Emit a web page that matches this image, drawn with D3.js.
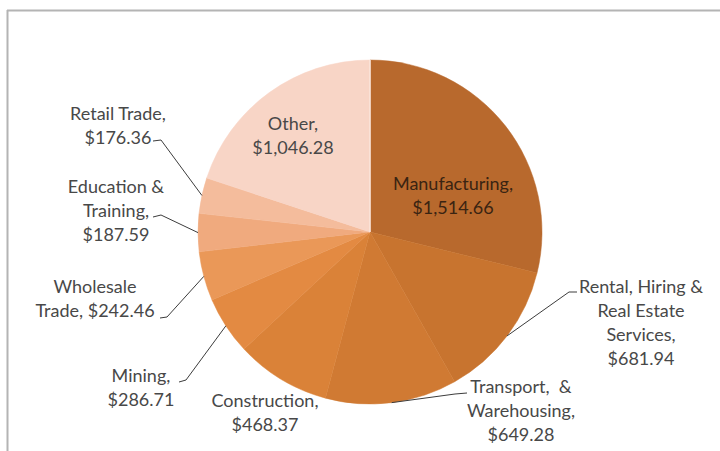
<!DOCTYPE html>
<html>
<head>
<meta charset="utf-8">
<script src="https://cdn.jsdelivr.net/npm/d3@7/dist/d3.min.js"></script>
<style>
  html, body { margin: 0; padding: 0; background: #fff; }
  svg { display: block; }
</style>
</head>
<body>
<svg id="chart" width="720" height="451"></svg>
<script>
// ---- data ----
const categories = ["Manufacturing", "Rental, Hiring & Real Estate Services", "Transport, & Warehousing",
  "Construction", "Mining", "Wholesale Trade", "Education & Training", "Retail Trade", "Other"];
const values = [1514.66, 681.94, 649.28, 468.37, 286.71, 242.46, 187.59, 176.36, 1046.28];
const labelTemplates = [
  ["Manufacturing,", "{v}"],
  ["Rental, Hiring &", "Real Estate", "Services,", "{v}"],
  ["Transport,\u00a0 &", "Warehousing,", "{v}"],
  ["Construction,", "{v}"],
  ["Mining,", "{v}"],
  ["Wholesale", "Trade, {v}"],
  ["Education &", "Training,", "{v}"],
  ["Retail Trade,", "{v}"],
  ["Other,", "{v}"]
];

// ---- styles / layout ----
const colors = ["#b8692d", "#c8742f", "#d07a33", "#da8238", "#e38a42", "#ea9858", "#f0aa7e", "#f4bc9c", "#f8d5c6"];
const labelLayout = [
  { x: 453, y: 190, leader: null, fill: "#3a2412" },
  { x: 641, y: 293, leader: [[577, 292], [569, 292]] },
  { x: 521, y: 393, leader: [[467, 393], [455, 394]] },
  { x: 265, y: 407, leader: null },
  { x: 141, y: 382, leader: [[179, 382], [186, 380]] },
  { x: 95,  y: 293, leader: [[160, 318], [167, 317]] },
  { x: 116, y: 193, leader: [[153, 217], [161, 215]] },
  { x: 118, y: 120, leader: [[153, 141], [161, 140]] },
  { x: 293, y: 130, leader: null }
];
const cx = 370, cy = 232, R = 172, lineH = 24;

const svg = d3.select("#chart");

// frame
svg.append("line").attr("x1", 7).attr("x2", 720).attr("y1", 10.5).attr("y2", 10.5)
  .attr("stroke", "#b4b4b4").attr("stroke-width", 2);
svg.append("line").attr("x1", 7.5).attr("x2", 7.5).attr("y1", 10).attr("y2", 451)
  .attr("stroke", "#b4b4b4").attr("stroke-width", 2);

const fmt = d3.format("$,.2f");
const pie = d3.pie().sort(null).value(d => d)(values);
const arc = d3.arc().innerRadius(0).outerRadius(R);

const g = svg.append("g").attr("transform", `translate(${cx},${cy})`);
g.selectAll("path.slice").data(pie).join("path")
  .attr("class", "slice")
  .attr("d", arc)
  .attr("fill", (d, i) => colors[i])
  .attr("stroke", (d, i) => colors[i])
  .attr("stroke-width", 0.5);

// thin light separator between Other and Manufacturing at the top
g.append("line").attr("x1", 0).attr("y1", 0).attr("x2", 0).attr("y2", -R)
  .attr("stroke", "#fbe6dc").attr("stroke-width", 1.5);

// leader lines
const line = d3.line();
pie.forEach((d, i) => {
  const L = labelLayout[i];
  if (!L.leader) return;
  const mid = (d.startAngle + d.endAngle) / 2;
  const end = [cx + R * Math.sin(mid), cy - R * Math.cos(mid)];
  svg.append("path")
    .attr("d", line([...L.leader, end]))
    .attr("fill", "none")
    .attr("stroke", "#3c3c3c")
    .attr("stroke-width", 1);
});

// labels
pie.forEach((d, i) => {
  const L = labelLayout[i];
  const t = svg.append("text")
    .attr("x", L.x).attr("y", L.y)
    .attr("text-anchor", "middle")
    .attr("font-family", "Lato, 'Open Sans', sans-serif")
    .attr("font-size", 18)
    .attr("fill", L.fill || "#484848");
  labelTemplates[i].forEach((s, j) => {
    t.append("tspan").attr("x", L.x).attr("y", L.y + j * lineH)
      .text(s.replace("{v}", fmt(values[i])));
  });
});
</script>
</body>
</html>
